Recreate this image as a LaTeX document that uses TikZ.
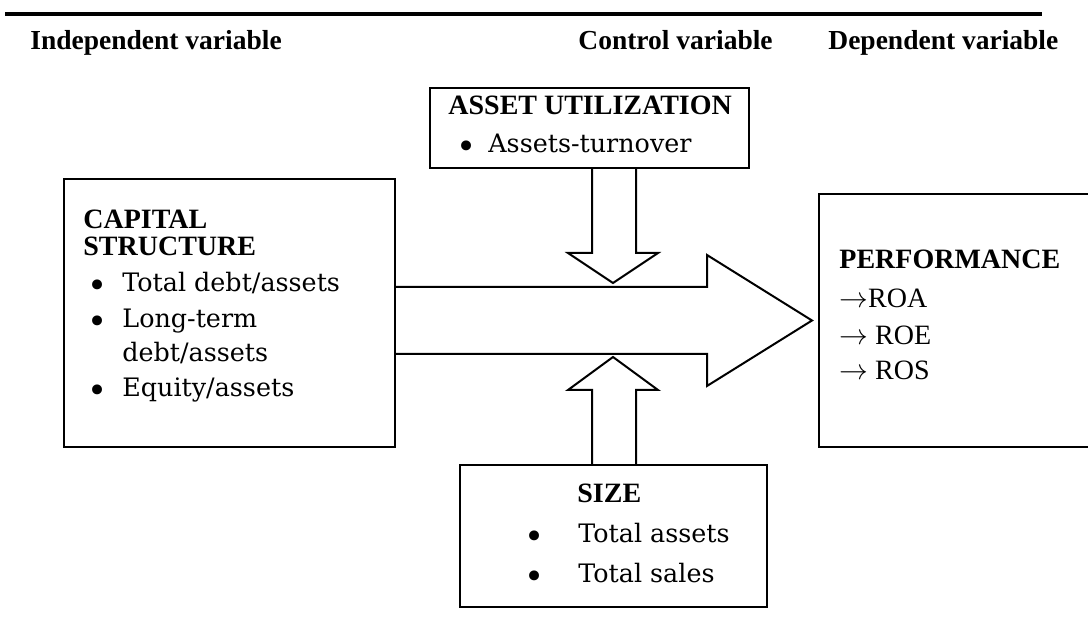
\documentclass[tikz,border=0pt]{standalone}
\usepackage{fontspec}
\setmainfont{Liberation Serif}
\newfontfamily\bodyfont{DejaVu Serif}
\usetikzlibrary{calc}

\tikzset{
	box/.style={draw,line width=1pt,inner sep=0pt,anchor=north west},
	head/.style={anchor=base west,inner sep=0pt,font=\fontsize{13.75}{16}\selectfont\bfseries},
	title/.style={anchor=base west,inner sep=0pt,font=\fontsize{14}{16}\selectfont\bfseries},
	item/.style={anchor=base west,inner sep=0pt,font=\bodyfont\fontsize{12.7}{15}\selectfont},
	dot/.style={anchor=base,inner sep=0pt,yshift=-3pt,font=\bodyfont\fontsize{17}{15}\selectfont},
	kpi/.style={anchor=base west,inner sep=0pt,font=\fontsize{14}{16}\selectfont},
	blockarrow/.style={draw,line width=1pt,line join=miter}
}

\begin{document}
\begin{tikzpicture}[x=0.5pt,y=-0.5pt]
	\useasboundingbox (0,0) rectangle (1088,619);
	\clip (0,0) rectangle (1088,619);
	%rule and headers
	\draw [line width=2pt] (5,14.5) -- (1042,14.5);
	\node[head] (indep) at (30,50) {Independent variable};
	\node[head] (ctrl) at (578,50) {Control variable};
	\node[head] (dep) at (828,50) {Dependent variable};
	%boxes
	\node[box,minimum width=165.5pt,minimum height=134pt] (cap) at (63,178) {};
	\node[box,minimum width=159.5pt,minimum height=40pt] (util) at (429,87) {};
	\node[box,minimum width=145pt,minimum height=126.5pt] (perf) at (818,193) {};
	\node[box,minimum width=153.5pt,minimum height=71pt] (size) at (459,464) {};
	%block arrows
	\draw [blockarrow] (cap.east |- 0,287) -- (707,287) -- (707,255) -- (812,320.5)
		-- (707,386) -- (707,354) -- (cap.east |- 0,354);
	\draw [blockarrow] (util.south -| 592,0) -- (592,253) -- (568,253) -- (613,283)
		-- (658,253) -- (636,253) -- (util.south -| 636,0);
	\draw [blockarrow] (size.north -| 592,0) -- (592,390) -- (568,390) -- (613,357)
		-- (658,390) -- (636,390) -- (size.north -| 636,0);
	%capital structure
	\node[title] (capa) at (83,229) {CAPITAL};
	\node[title] (capb) at (83,256) {STRUCTURE};
	\node[dot] at (98,292) {•};
	\node[dot] at (98,328) {•};
	\node[dot] at (98,397) {•};
	\node[item] (tda) at (122,292) {Total debt/assets};
	\node[item] (ltd) at (122,328) {Long-term};
	\node[item] (ltda) at (122,362) {debt/assets};
	\node[item] (ea) at (122,397) {Equity/assets};
	%asset utilization
	\node[title] (utila) at (448,115) {ASSET UTILIZATION};
	\node[dot] at (467,153) {•};
	\node[item] (turn) at (488,153) {Assets-turnover};
	%performance
	\node[title] (perfa) at (839,269) {PERFORMANCE};
	\node[kpi] (roa) at (839,308) {$\rightarrow$ROA};
	\node[kpi] (roe) at (839,345) {$\rightarrow$ ROE};
	\node[kpi] (ros) at (839,380) {$\rightarrow$ ROS};
	%size
	\node[title] (sizea) at (577,503) {SIZE};
	\node[dot] at (535,543) {•};
	\node[dot] at (535,583) {•};
	\node[item] (ta) at (578,543) {Total assets};
	\node[item] (ts) at (578,583) {Total sales};
\end{tikzpicture}
\end{document}
